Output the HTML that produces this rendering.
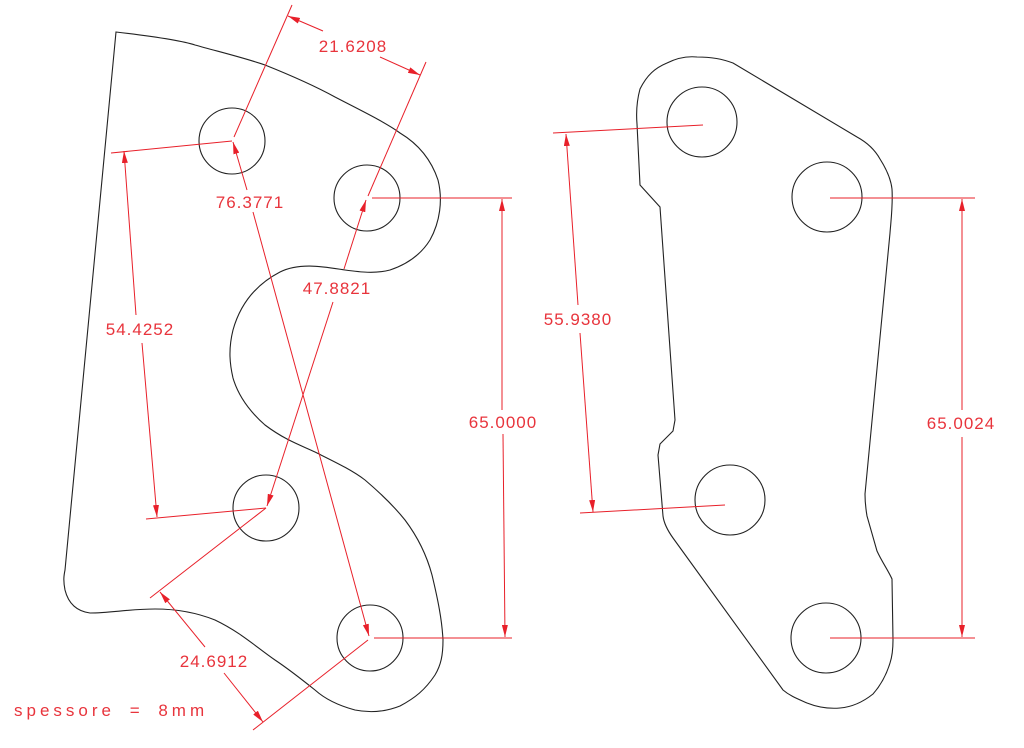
<!DOCTYPE html>
<html><head><meta charset="utf-8"><style>
html,body{margin:0;padding:0;background:#fff;}
svg{display:block;}
text{font-family:"Liberation Sans",sans-serif;font-size:17px;fill:#e8343c;letter-spacing:1px;}
</style></head><body>
<svg width="1024" height="748" viewBox="0 0 1024 748" xmlns="http://www.w3.org/2000/svg">
<defs>
<marker id="a" viewBox="0 0 12 6" refX="12" refY="3" markerWidth="12" markerHeight="6" markerUnits="userSpaceOnUse" orient="auto-start-reverse">
<path d="M0,0 L12,3 L0,6 Z" fill="#e8202a"/></marker>
</defs>
<g fill="none" stroke="#222" stroke-width="1.1">
<path d="M116,32 C150,36 180,40 195,45 C220,52 245,58 265,65 C290,75 315,86 335,97 C360,110 385,122 400,133 C420,145 432,162 438,180 C443,200 440,222 430,240 C420,256 405,265 390,270 C375,274 360,272 345,270 C325,267 300,262 280,272 C255,285 240,305 233,330 C228,350 230,365 233,378 C238,395 248,410 265,425 C285,440 300,445 315,452 C335,462 352,470 365,480 C385,497 397,510 405,520 C420,540 428,560 432,575 C438,600 442,620 443,640 C443,655 441,665 435,675 C425,690 415,698 400,706 C385,712 370,713 355,710 C340,706 325,699 315,690 C300,678 290,670 275,660 C255,646 240,632 215,620 C195,612 175,609 155,609 C130,609 110,613 90,613 C75,611 68,602 65,590 C63,580 64,575 65,570 Z"/>
<circle cx="232" cy="141" r="33"/>
<circle cx="367" cy="198" r="33"/>
<circle cx="266" cy="508" r="33"/>
<circle cx="370" cy="638" r="33"/>
<path d="M637,124 C636,112 637,100 640,89 C647,75 655,68 667,63 C677,58 687,56 697,57 C712,57 722,59 733,63 L857,137 C868,143 875,150 880,159 C887,170 891,180 892,189 C893,205 891,220 890,233 L865,494 C865,503 866,510 867,516 L877,551 C882,562 888,570 892,579 L893,640 C893,650 892,657 890,663 C886,676 880,686 873,694 C863,702 852,707 840,708 C828,709 817,707 807,703 C798,699 790,696 783,690 L673,538 C668,531 664,524 663,516 L658,455 L660,444 L673,431 L675,420 L660,207 L640,185 Z"/>
<circle cx="702" cy="122" r="35"/>
<circle cx="827" cy="197" r="35"/>
<circle cx="730" cy="500" r="35"/>
<circle cx="826" cy="638" r="35"/>
</g>
<g fill="none" stroke="#e8202a" stroke-width="1">
<line x1="234" y1="137" x2="292" y2="5"/>
<line x1="368" y1="196" x2="426" y2="62"/>
<line x1="323" y1="31" x2="288" y2="16" marker-end="url(#a)"/>
<line x1="380" y1="57" x2="420" y2="75" marker-end="url(#a)"/>
<line x1="247" y1="190" x2="233" y2="142" marker-end="url(#a)"/>
<line x1="253" y1="212" x2="369" y2="636" marker-end="url(#a)"/>
<line x1="344" y1="269" x2="366" y2="200" marker-end="url(#a)"/>
<line x1="333" y1="302" x2="267" y2="506" marker-end="url(#a)"/>
<line x1="111" y1="153" x2="232" y2="141"/>
<line x1="146" y1="519" x2="266" y2="508"/>
<line x1="136" y1="315" x2="124" y2="151" marker-end="url(#a)"/>
<line x1="142" y1="343" x2="157" y2="517" marker-end="url(#a)"/>
<line x1="372" y1="198" x2="512" y2="198"/>
<line x1="374" y1="638" x2="512" y2="638"/>
<line x1="502" y1="410" x2="502" y2="199" marker-end="url(#a)"/>
<line x1="503" y1="434" x2="505" y2="637" marker-end="url(#a)"/>
<line x1="266" y1="508" x2="150" y2="598"/>
<line x1="368" y1="640" x2="253" y2="730"/>
<line x1="205" y1="647" x2="160" y2="592" marker-end="url(#a)"/>
<line x1="224" y1="673" x2="263" y2="722" marker-end="url(#a)"/>
<line x1="553" y1="133" x2="703" y2="125"/>
<line x1="580" y1="513" x2="725" y2="505"/>
<line x1="578" y1="305" x2="566" y2="134" marker-end="url(#a)"/>
<line x1="580" y1="333" x2="593" y2="512" marker-end="url(#a)"/>
<line x1="830" y1="198" x2="975" y2="198"/>
<line x1="830" y1="638" x2="975" y2="638"/>
<line x1="962" y1="410" x2="962" y2="199" marker-end="url(#a)"/>
<line x1="962" y1="437" x2="962" y2="637" marker-end="url(#a)"/>
</g>
<text x="353" y="52" text-anchor="middle">21.6208</text>
<text x="250" y="208" text-anchor="middle">76.3771</text>
<text x="337" y="294" text-anchor="middle">47.8821</text>
<text x="140" y="335" text-anchor="middle">54.4252</text>
<text x="503" y="428" text-anchor="middle">65.0000</text>
<text x="214" y="667" text-anchor="middle">24.6912</text>
<text x="14" y="716" style="letter-spacing:4px;word-spacing:6px">spessore = 8mm</text>
<text x="578" y="325" text-anchor="middle">55.9380</text>
<text x="961" y="429" text-anchor="middle">65.0024</text>
</svg>
</body></html>
